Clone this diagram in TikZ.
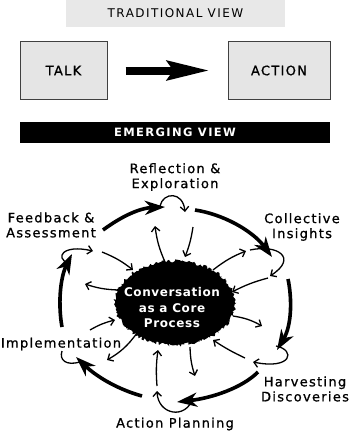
\documentclass[tikz,border=0pt]{standalone}
\usepackage{fontspec}
\setmainfont{DejaVu Sans}
\newfontfamily\lblfont[LetterSpace=12]{DejaVu Sans}
\newfontfamily\boxfont[LetterSpace=10,FakeBold=0.8]{DejaVu Sans}
\newfontfamily\stationfont[LetterSpace=10,FakeBold=0.9]{DejaVu Sans}
\newfontfamily\corefont[LetterSpace=5]{DejaVu Sans}
\usetikzlibrary{arrows.meta,decorations.pathmorphing}
\begin{document}
\begin{tikzpicture}[x=1pt,y=-1pt,
  thickarr/.style={line width=3.6pt, -{Stealth[length=20pt,width=14pt,inset=6pt]}},
  thinarr/.style={line width=1.3pt, -{Straight Barb[length=4.5pt,width=8.5pt]}},
  loopline/.style={line width=1.3pt},
  lbl/.style={font=\stationfont\fontsize{13}{15}\selectfont, align=center, inner sep=0pt},
  greybox/.style={fill=black!10, draw=black!75, line width=1pt, inner sep=0pt},
]
\path[use as bounding box] (0,0) rectangle (350,436);
% ---------- traditional view ----------
\node[fill=black!9, minimum width=219pt, minimum height=27pt, inner sep=0pt] (trad) at (175.5,13.5)
  {\lblfont\fontsize{12}{14}\selectfont TRADITIONAL VIEW};
\node[greybox, minimum width=87pt, minimum height=57pt] (talk) at (63.5,70.5)
  {\boxfont\fontsize{13}{15}\selectfont TALK};
\node[greybox, minimum width=102pt, minimum height=57pt] (action) at (279,70.5)
  {\boxfont\fontsize{13}{15}\selectfont ACTION};
\draw[line width=8pt, -{Stealth[length=42pt,width=19pt,inset=6pt]}]
  ([xshift=18pt]talk.east) -- ([xshift=-18pt]action.west);
% ---------- emerging view ----------
\node[fill=black, minimum width=310pt, minimum height=21pt, inner sep=0pt, text=white] (emerg) at (175,132)
  {\lblfont\bfseries\fontsize{11.5}{13}\selectfont EMERGING VIEW};
% ---------- core blob ----------
\pgfmathsetseed{7}
\fill[decorate, decoration={random steps, segment length=1.4pt, amplitude=1.6pt}]
  (175,303) ellipse [x radius=60pt, y radius=42pt];
\node[text=white, align=center, inner sep=0pt, font=\corefont\bfseries\fontsize{12}{15.5}\selectfont] (core) at (172,308)
  {Conversation\\as a Core\\Process};
% ---------- labels ----------
\node[lbl] (refl) at (175,177) {Reflection \&\\Exploration};
\node[lbl] (coll) at (302,227) {Collective\\Insights};
\node[lbl] (feed) at (51,225) {Feedback \&\\Assessment};
\node[lbl] (impl) at (61,344) {Implementation};
\node[lbl] (harv) at (305,389) {Harvesting\\Discoveries};
\node[lbl] (actp) at (175,424) {Action Planning};
% ---------- coordinates ----------
\coordinate (t1s) at (103,230); \coordinate (t1e) at (165,207);
\coordinate (t2s) at (195,210); \coordinate (t2e) at (272,257);
\coordinate (t3s) at (288,279); \coordinate (t3e) at (277,350);
\coordinate (t4s) at (258,372); \coordinate (t4e) at (177,402);
\coordinate (t5s) at (142,396); \coordinate (t5e) at (76,357);
\coordinate (t6s) at (62,327);  \coordinate (t6e) at (72,254);
% outer cycle
\draw[thickarr] (t1s) .. controls (122,216) and (140,208) .. (t1e);
\draw[thickarr] (t2s) .. controls (222,214) and (252,230) .. (t2e);
\draw[thickarr] (t3s) .. controls (292,298) and (292,325) .. (t3e);
\draw[thickarr] (t4s) .. controls (242,388) and (212,398) .. (t4e);
\draw[thickarr] (t5s) .. controls (120,390) and (98,378) .. (t5e);
\draw[thickarr] (t6s) .. controls (58,305) and (60,278) .. (t6e);
% loops
\coordinate (l1s) at (160,206); \coordinate (l1e) at (185,212);
\coordinate (l2s) at (250,250); \coordinate (l2e) at (270,276);
\coordinate (l3s) at (276,346); \coordinate (l3e) at (253,362);
\coordinate (l4s) at (193,398); \coordinate (l4e) at (157,391);
\coordinate (l5s) at (80,362);  \coordinate (l5e) at (62,351);
\coordinate (l6s) at (68,263);  \coordinate (l6e) at (93,251);
\draw[thinarr] (l1s) .. controls (163,192) and (183,191) .. (l1e);
\draw[thinarr] (l2s) .. controls (278,244) and (298,258) .. (l2e);
\draw[thinarr] (l3s) .. controls (296,350) and (292,370) .. (l3e);
\draw[thinarr] (l4s) .. controls (186,420) and (158,415) .. (l4e);
\draw[loopline] (l5s) .. controls (66,366) and (59,360) .. (l5e);
\draw[thinarr] (l6s) .. controls (55,258) and (62,244) .. (l6e);
% spokes
\coordinate (s1a) at (102,252);  \coordinate (s1b) at (133,270);
\coordinate (s2a) at (165,262);  \coordinate (s2b) at (155,226);
\coordinate (s3a) at (193,227);  \coordinate (s3b) at (185,257);
\coordinate (s4a) at (213,270);  \coordinate (s4b) at (246,251);
\coordinate (s5a) at (268,278);  \coordinate (s5b) at (232,292);
\coordinate (s6a) at (233,316);  \coordinate (s6b) at (262,326);
\coordinate (s7a) at (245,358);  \coordinate (s7b) at (213,340);
\coordinate (s8a) at (190,347);  \coordinate (s8b) at (195,376);
\coordinate (s9a) at (157,386);  \coordinate (s9b) at (158,350);
\coordinate (s10a) at (137,333); \coordinate (s10b) at (107,360);
\coordinate (s11a) at (90,330);  \coordinate (s11b) at (115,320);
\coordinate (s12a) at (118,290); \coordinate (s12b) at (85,284);
\draw[thinarr] (s1a) to[bend left=8] (s1b);
\draw[thinarr] (s2a) to[bend left=8] (s2b);
\draw[thinarr] (s3a) to[bend left=6] (s3b);
\draw[thinarr] (s4a) to[bend left=8] (s4b);
\draw[thinarr] (s5a) to[bend right=6] (s5b);
\draw[thinarr] (s6a) to[bend left=10] (s6b);
\draw[thinarr] (s7a) to[bend left=4] (s7b);
\draw[thinarr] (s8a) to[bend right=8] (s8b);
\draw[thinarr] (s9a) to[bend left=6] (s9b);
\draw[thinarr] (s10a) to[bend left=12] (s10b);
\draw[thinarr] (s11a) to[bend left=8] (s11b);
\draw[thinarr] (s12a) to[bend left=8] (s12b);
\end{tikzpicture}
\end{document}
